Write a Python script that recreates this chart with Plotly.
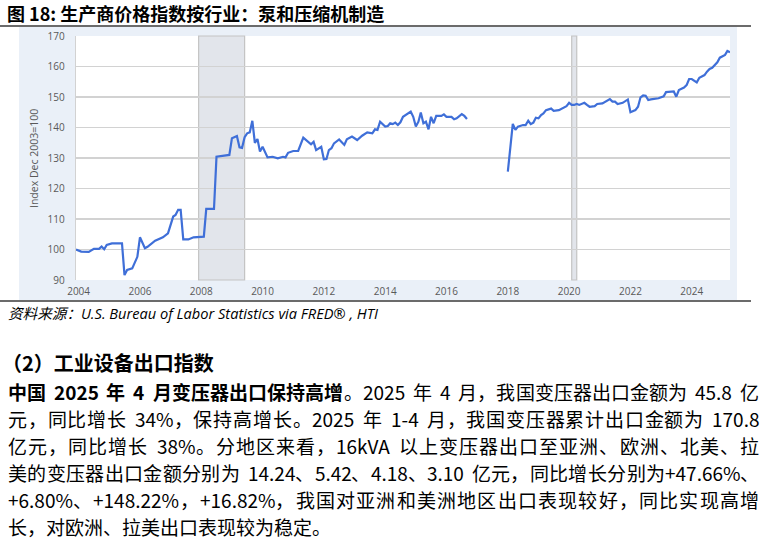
import plotly.graph_objects as go

# ---------------- data ----------------
dates = [
    "2003-12", "2004-02", "2004-05", "2004-07", "2004-09", "2004-10", "2004-11", "2004-12",
    "2005-02", "2005-06", "2005-07", "2005-08", "2005-10", "2005-12", "2006-01", "2006-03",
    "2006-04", "2006-07", "2006-10", "2006-12", "2007-02", "2007-03", "2007-04", "2007-05",
    "2007-06", "2007-08", "2007-10", "2008-02", "2008-03", "2008-06", "2008-07", "2008-12",
    "2009-01", "2009-03", "2009-04", "2009-05", "2009-06", "2009-07", "2009-08", "2009-09",
    "2009-10", "2009-11", "2009-12", "2010-01", "2010-03", "2010-05", "2010-07", "2010-09",
    "2010-10", "2010-11", "2011-01", "2011-03", "2011-05", "2011-06", "2011-08", "2011-09",
    "2011-10", "2011-12", "2012-01", "2012-02", "2012-03", "2012-04", "2012-05", "2012-07",
    "2012-09", "2012-10", "2012-12", "2013-02", "2013-04", "2013-06", "2013-08", "2013-09",
    "2013-10", "2013-11", "2014-01", "2014-02", "2014-03", "2014-04", "2014-05", "2014-06",
    "2014-07", "2014-08", "2014-10", "2014-11", "2014-12", "2015-01", "2015-02", "2015-03",
    "2015-04", "2015-05", "2015-06", "2015-07", "2015-08", "2015-09", "2015-11", "2015-12",
    "2016-01", "2016-03", "2016-04", "2016-05", "2016-07", "2016-08", "2016-09",
    "2017-06",
    "2018-01", "2018-03", "2018-04", "2018-05", "2018-07", "2018-08", "2018-09", "2018-10",
    "2018-11", "2018-12", "2019-01", "2019-02", "2019-03", "2019-04", "2019-06", "2019-07",
    "2019-09", "2019-10", "2019-12", "2020-01", "2020-02", "2020-03", "2020-04", "2020-05",
    "2020-07", "2020-08", "2020-09", "2020-11", "2020-12", "2021-02", "2021-04", "2021-05",
    "2021-06", "2021-07", "2021-08", "2021-10", "2021-12", "2022-01", "2022-03", "2022-04",
    "2022-05", "2022-06", "2022-07", "2022-08", "2022-09", "2022-11", "2022-12", "2023-02",
    "2023-03", "2023-06", "2023-07", "2023-08", "2023-10", "2023-11", "2023-12", "2024-01",
    "2024-02", "2024-03", "2024-04", "2024-06", "2024-07", "2024-08", "2024-09", "2024-11",
    "2024-12", "2025-01", "2025-02", "2025-03", "2025-04",
]
index_values = [
    100.0, 99.3, 99.2, 100.2, 100.2, 101.0, 100.1, 101.5,
    102.0, 102.0, 91.6, 93.3, 93.8, 97.6, 104.0, 100.4,
    100.9, 102.9, 104.0, 105.3, 110.8, 111.3, 113.0, 113.0,
    103.3, 103.3, 104.0, 104.2, 113.3, 113.3, 130.4, 131.0,
    136.5, 137.2, 133.5, 133.3, 136.8, 138.1, 138.4, 142.2,
    135.0, 136.2, 132.1, 133.7, 130.2, 130.4, 129.9, 130.4,
    130.2, 131.7, 132.3, 132.3, 136.7, 135.9, 134.5, 135.3,
    132.6, 133.7, 129.6, 129.7, 132.6, 133.2, 134.8, 136.1,
    134.3, 136.1, 137.0, 135.9, 137.3, 138.4, 138.1, 139.4,
    139.2, 141.9, 140.3, 140.5, 141.4, 141.1, 141.6, 140.8,
    141.7, 143.5, 144.6, 145.2, 143.5, 140.3, 141.9, 144.9,
    141.4, 141.9, 139.4, 143.5, 141.4, 143.8, 143.8, 144.3,
    143.5, 143.5, 142.7, 143.0, 144.4, 143.8, 142.8,
    None,
    125.5, 141.2, 139.2, 140.3, 140.8, 140.8, 142.2, 141.1,
    141.6, 143.2, 143.0, 144.1, 144.6, 145.7, 146.2, 145.5,
    145.7, 146.2, 147.0, 148.1, 147.4, 147.4, 147.7, 147.4,
    148.1, 147.4, 146.8, 147.0, 147.7, 147.9, 149.0, 149.3,
    148.5, 148.5, 147.7, 148.1, 149.2, 145.0, 145.7, 146.8,
    149.9, 150.5, 150.4, 149.0, 149.2, 149.4, 149.6, 150.2,
    151.6, 151.8, 150.1, 152.3, 153.1, 153.9, 155.9, 155.9,
    155.2, 154.8, 156.3, 157.2, 158.3, 159.2, 159.6, 161.4,
    162.9, 163.3, 163.8, 165.1, 164.7,
]
recession_starts = ["2007-12-01", "2020-02-01"]
recession_ends = ["2009-06-01", "2020-04-01"]
x_range = ["2003-12-01", "2025-04-01"]
y_ticks = [90, 100, 110, 120, 130, 140, 150, 160, 170]

title_text = "图 18: 生产商价格指数按行业：泵和压缩机制造"
y_title = "Index Dec 2003=100"
source_text = "资料来源：U.S. Bureau of Labor Statistics via FRED® , HTI"
heading_text = "（2）工业设备出口指数"
para_bold_prefix = "中国 2025 年 4 月变压器出口保持高增"
para_lines = [
    "中国 2025 年 4 月变压器出口保持高增。2025 年 4 月，我国变压器出口金额为 45.8 亿",
    "元，同比增长 34%，保持高增长。2025 年 1-4 月，我国变压器累计出口金额为 170.8",
    "亿元，同比增长 38%。分地区来看，16kVA 以上变压器出口至亚洲、欧洲、北美、拉",
    "美的变压器出口金额分别为 14.24、5.42、4.18、3.10 亿元，同比增长分别为+47.66%、",
    "+6.80%、+148.22%，+16.82%，我国对亚洲和美洲地区出口表现较好，同比实现高增",
    "长，对欧洲、拉美出口表现较为稳定。",
]

# ---------------- layout geometry ----------------
W, H = 763, 542
PL, PR, PT, PB = 76, 730, 36, 280  # plot area in pixels


def px(x):
    return (x - PL) / (PR - PL)


def py(y):
    return (PB - y) / (PB - PT)


CJK = "Noto Sans CJK SC"
TICK_FONT = dict(family="Open Sans, " + CJK, size=10, color="#595959")
LINE_BLUE = "#3f6fd8"
GRID = "#d2d2d2"

fig = go.Figure()
fig.add_trace(go.Scatter(
    x=dates, y=index_values, mode="lines",
    line=dict(color=LINE_BLUE, width=2.2), connectgaps=False,
    hoverinfo="skip", showlegend=False,
))

shapes = [
    dict(type="rect", xref="paper", yref="paper", x0=px(19), x1=px(737), y0=py(300), y1=py(27),
         fillcolor="#eaf0f8", line=dict(width=0), layer="below"),
    dict(type="rect", xref="paper", yref="paper", x0=0, x1=1, y0=0, y1=1,
         fillcolor="white", line=dict(width=0), layer="below"),
    dict(type="line", xref="paper", yref="paper", x0=px(0), x1=px(751), y0=py(26), y1=py(26),
         line=dict(color="#3a3a3a", width=1.5)),
    dict(type="line", xref="paper", yref="paper", x0=px(0), x1=px(751), y0=py(301), y1=py(301),
         line=dict(color="#3a3a3a", width=1.5)),
]
for s, e in zip(recession_starts, recession_ends):
    shapes.append(dict(type="rect", xref="x", yref="paper", x0=s, x1=e, y0=0, y1=1,
                       fillcolor="#e2e5eb", line=dict(color="#c4c4c4", width=1.2), layer="below"))

annotations = [
    dict(text=f"<b>{title_text}</b>", x=px(5), y=py(13), font=dict(family=CJK, size=18, color="black")),
    dict(text=y_title, x=px(34), y=py(159), textangle=-90, xanchor="center",
         font=dict(family="Open Sans", size=10.5, color="#595959")),
    dict(text=f"<i>{source_text}</i>", x=px(6), y=py(313),
         font=dict(family="Open Sans, " + CJK, size=14.6, color="black")),
    dict(text=f"<b>{heading_text}</b>", x=px(0), y=py(362), font=dict(family=CJK, size=20, color="black")),
]

# ---- justified paragraph: every CJK character / Latin word is placed, spread over the line width ----
PARA_FS = 19
LEFT, RIGHT = 6, 757


def is_cjk(c):
    return ord(c) >= 0x2E80


def em_width(c, bold):
    if is_cjk(c):
        return 1.0
    if c == " ":
        return 0.42
    if c.isdigit() or c == "+":
        return 0.58 if bold else 0.55
    return {".": 0.27, "%": 0.9, "-": 0.33, "k": 0.5, "V": 0.6, "A": 0.62}.get(c, 0.55)


def line_tokens(line, bold_len):
    tokens, cur, cur_start, cur_bold, pos = [], "", 0.0, False, 0.0

    def flush():
        nonlocal cur
        if cur:
            tokens.append((cur_start, cur, cur_bold))
        cur = ""

    for i, c in enumerate(line):
        b = i < bold_len
        if c == " ":
            flush()
            pos += em_width(c, b)
            continue
        if is_cjk(c) or (cur and b != cur_bold):
            flush()
        if not cur:
            cur_start, cur_bold = pos, b
        cur += c
        pos += em_width(c, b)
        if is_cjk(c):
            flush()
    flush()
    return tokens, pos


for li, line in enumerate(para_lines):
    bold_len = len(para_bold_prefix) if li == 0 else 0
    tokens, total = line_tokens(line, bold_len)
    justify = li < len(para_lines) - 1
    n = len(tokens)
    extra = ((RIGHT - LEFT) - total * PARA_FS) / (n - 1) if (justify and n > 1) else 0.0
    yline = 391 + 27 * li
    for k, (start, text, bold) in enumerate(tokens):
        annotations.append(dict(
            text=f"<b>{text}</b>" if bold else text,
            x=px(LEFT + start * PARA_FS + k * extra), y=py(yline),
            font=dict(family=CJK, size=PARA_FS, color="black")))

for a in annotations:
    a.setdefault("xref", "paper")
    a.setdefault("yref", "paper")
    a.setdefault("xanchor", "left")
    a.setdefault("yanchor", "middle")
    a["showarrow"] = False

fig.update_layout(
    width=W, height=H,
    margin=dict(l=PL, r=W - PR, t=PT, b=H - PB, pad=0),
    paper_bgcolor="white", plot_bgcolor="white",
    shapes=shapes, annotations=annotations,
    xaxis=dict(range=x_range, type="date", tick0="2004-01-01", dtick="M24", tickformat="%Y",
               showgrid=False, zeroline=False, showline=False,
               ticks="outside", ticklen=2, tickcolor="rgba(0,0,0,0)", tickfont=TICK_FONT),
    yaxis=dict(range=[90, 170], tickvals=y_ticks, showgrid=True, gridcolor=GRID, gridwidth=1.3,
               zeroline=False, showline=True, linecolor=GRID, linewidth=1.3,
               ticks="outside", ticklen=8, tickcolor="rgba(0,0,0,0)", tickfont=TICK_FONT),
)

fig.write_html(
    "out.html",
    config={"displayModeBar": False, "staticPlot": True},
    post_script="document.body.style.margin='0';document.body.style.overflow='hidden';",
)
